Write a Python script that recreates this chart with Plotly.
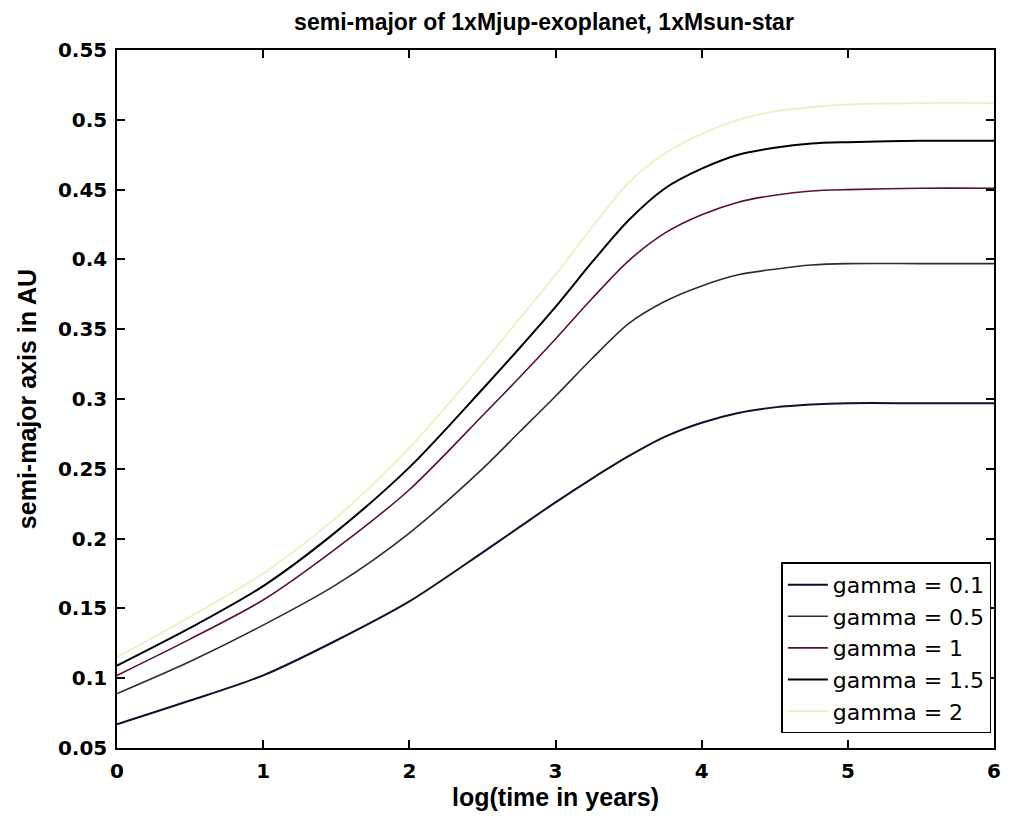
import plotly.graph_objects as go

x = [0, 0.5, 1, 1.5, 2, 2.5, 2.75, 3, 3.25, 3.5, 3.75, 4, 4.25, 4.5, 4.75, 5, 5.5, 6]
g01 = [0.067, 0.084, 0.102, 0.127, 0.155, 0.190, 0.208, 0.226, 0.243, 0.259, 0.273, 0.283, 0.290, 0.294, 0.296, 0.297, 0.297, 0.297]
g05 = [0.089, 0.112, 0.138, 0.167, 0.204, 0.250, 0.276, 0.302, 0.329, 0.354, 0.370, 0.381, 0.389, 0.393, 0.396, 0.397, 0.397, 0.397]
g1 = [0.102, 0.128, 0.156, 0.193, 0.235, 0.288, 0.315, 0.343, 0.372, 0.399, 0.419, 0.432, 0.441, 0.446, 0.449, 0.450, 0.451, 0.451]
g15 = [0.109, 0.136, 0.166, 0.205, 0.251, 0.307, 0.336, 0.366, 0.398, 0.428, 0.451, 0.465, 0.475, 0.480, 0.483, 0.484, 0.485, 0.485]
g2 = [0.115, 0.144, 0.175, 0.215, 0.265, 0.325, 0.357, 0.389, 0.423, 0.455, 0.476, 0.490, 0.500, 0.506, 0.509, 0.511, 0.512, 0.512]

names = ["gamma = 0.1", "gamma = 0.5", "gamma = 1", "gamma = 1.5", "gamma = 2"]
series = [g01, g05, g1, g15, g2]
colors = ["#10102a", "#23322b", "#5a1420", "#000000", "#eeeec4"]
widths = [2, 1.6, 1.6, 2, 1.8]

fig = go.Figure()
for n, s, c, w in zip(names, series, colors, widths):
    fig.add_trace(go.Scatter(x=x, y=s, mode="lines", name=n,
                             line=dict(color=c, width=w, shape="spline", smoothing=0.8)))

font = "Liberation Sans, Arial, sans-serif"
tfont = "DejaVu Sans, sans-serif"
axis_common = dict(showline=True, linecolor="black", linewidth=1.5, mirror="ticks",
                   ticks="inside", ticklen=8, tickcolor="black", tickwidth=1.5,
                   showgrid=False, zeroline=False,
                   tickfont=dict(family=tfont, size=20, color="black", weight="bold"))

fig.update_layout(
    width=1013, height=825,
    margin=dict(l=117, r=12, t=50, b=77),
    paper_bgcolor="white", plot_bgcolor="white",
    title=dict(text="semi-major of 1xMjup-exoplanet, 1xMsun-star", x=0.537, xanchor="center",
               y=0.973, yanchor="middle",
               font=dict(family=font, size=23, color="black", weight="bold")),
    xaxis=dict(range=[0, 6], dtick=1, **axis_common, ticklabelstandoff=4,
               title=dict(text="log(time in years)", standoff=6,
                          font=dict(family=font, size=25, color="black", weight="bold"))),
    yaxis=dict(range=[0.05, 0.55], dtick=0.05, tickformat="~g", **axis_common,
               ticklabelstandoff=4,
               title=dict(text="semi-major axis in AU", standoff=14,
                          font=dict(family=font, size=25, color="black", weight="bold"))),
    legend=dict(x=0.997, y=0.021, xanchor="right", yanchor="bottom",
                bgcolor="white", bordercolor="black", borderwidth=1.5,
                font=dict(family=tfont, size=22, color="black"),
                tracegroupgap=0, itemwidth=40),
    showlegend=True,
)

fig.write_html("out.html")
